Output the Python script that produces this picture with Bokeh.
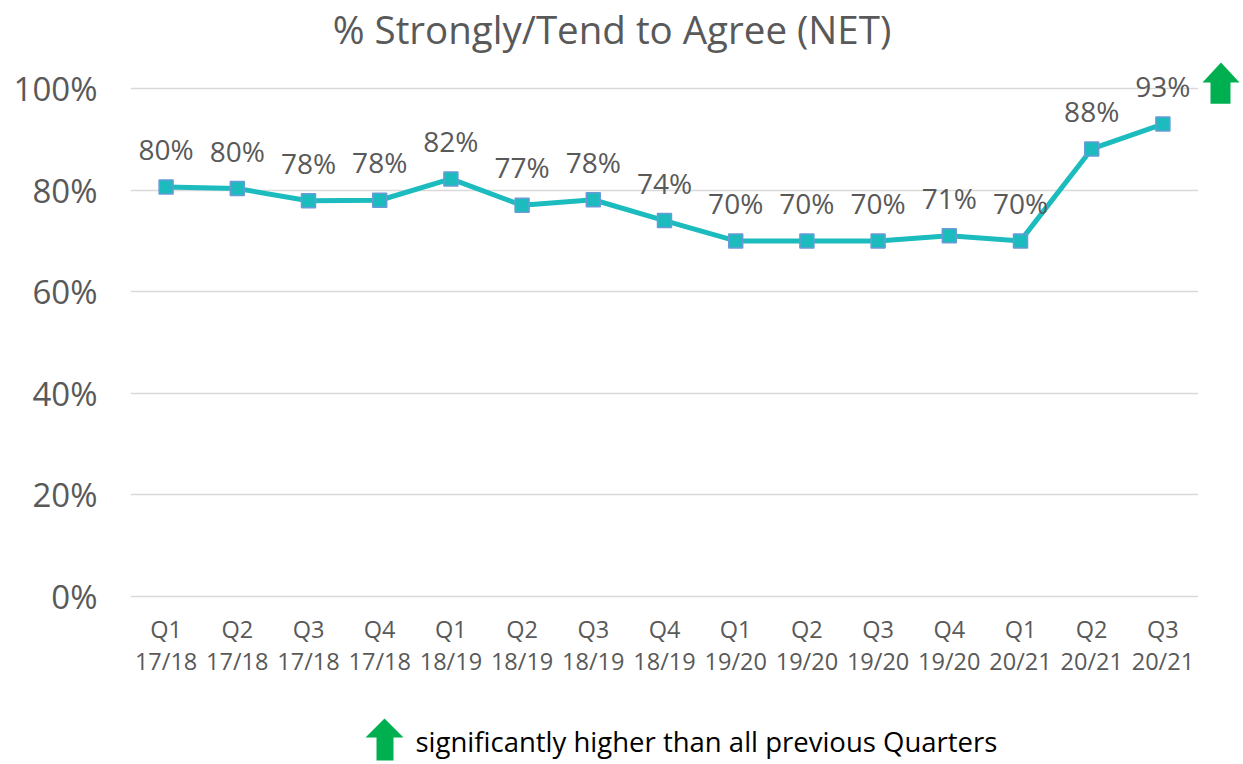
from bokeh.plotting import figure
from bokeh.layouts import row, column
from bokeh.models import ColumnDataSource, FixedTicker, PrintfTickFormatter, Range1d
from bokeh.core.properties import value
from bokeh.embed import file_html
from bokeh.resources import INLINE

quarters = ["Q1", "Q2", "Q3", "Q4", "Q1", "Q2", "Q3", "Q4", "Q1", "Q2", "Q3", "Q4", "Q1", "Q2", "Q3"]
years = ["17/18", "17/18", "17/18", "17/18", "18/19", "18/19", "18/19", "18/19",
         "19/20", "19/20", "19/20", "19/20", "20/21", "20/21", "20/21"]
net_agree = [80.6, 80.3, 77.9, 78.0, 82.2, 77.0, 78.1, 74.0, 70.0, 70.0, 70.0, 71.0, 70.0, 88.1, 93.0]
value_labels = ["80%", "80%", "78%", "78%", "82%", "77%", "78%", "74%", "70%", "70%", "70%", "71%", "70%", "88%", "93%"]
y_ticks = [0, 20, 40, 60, 80, 100]

TITLE = "% Strongly/Tend to Agree (NET)"
NOTE = "significantly higher than all previous Quarters"

factors = [f"{q}\n{y}" for q, y in zip(quarters, years)]
src = ColumnDataSource(dict(x=factors, y=net_agree, lab=value_labels))

FONT = "Open Sans"
GREY = "#595959"
TEAL = "#1CBCBE"
GREEN = "#00B050"


def blank(w, h, x_range, y_range):
    f = figure(width=w, height=h, x_range=x_range, y_range=y_range,
               output_backend="svg", toolbar_location=None,
               x_axis_location=None, y_axis_location=None,
               min_border=0, min_border_left=0, min_border_right=0,
               min_border_top=0, min_border_bottom=0)
    f.outline_line_color = None
    f.grid.visible = False
    return f


# ---------------- title strip ----------------
head = blank(1241, 56, Range1d(0, 1241), Range1d(56, 0))
head.text([611.5], [28], text=[TITLE], text_font=value(FONT), text_font_size="38.5px",
          text_color=GREY, text_align="center", text_baseline="middle")

# ---------------- main chart ----------------
p = figure(x_range=factors, y_range=(-0.6, 106.3), width=1198, height=649,
           output_backend="svg", toolbar_location=None,
           min_border_left=130, min_border_right=0, min_border_bottom=106, min_border_top=0)

p.outline_line_color = None
p.xgrid.visible = False
p.ygrid.ticker = FixedTicker(ticks=y_ticks)
p.ygrid.grid_line_color = "#D9D9D9"
p.ygrid.grid_line_width = 1.5

p.yaxis.ticker = FixedTicker(ticks=y_ticks)
p.yaxis.formatter = PrintfTickFormatter(format="%d%%")
p.yaxis.axis_line_color = None
p.yaxis.major_tick_line_color = None
p.yaxis.minor_tick_line_color = None
p.yaxis.major_label_text_font = FONT
p.yaxis.major_label_text_font_size = "33px"
p.yaxis.major_label_text_color = GREY
p.yaxis.major_label_standoff = 27

p.xaxis.axis_line_color = None
p.xaxis.major_tick_line_color = None
p.xaxis.major_label_text_font = FONT
p.xaxis.major_label_text_font_size = "23.5px"
p.xaxis.major_label_text_color = GREY
p.xaxis.major_label_text_line_height = 1.0
p.xaxis.major_label_standoff = 7

p.line("x", "y", source=src, line_color=TEAL, line_width=5)
p.scatter("x", "y", source=src, marker="square", size=14, fill_color=TEAL,
          line_color="#6A9BD8", line_width=1.5)
p.text("x", "y", text="lab", source=src, text_font=value(FONT), text_font_size="28px",
       text_color=GREY, text_align="center", text_baseline="alphabetic", y_offset=-38)

# ---------------- side strip with significance arrow (shares the y range) ----------------
side = blank(43, 649, Range1d(0, 43), p.y_range)
side.patch([22.5, 41, 32, 32, 12, 12, 4], [105.1, 101.2, 101.2, 97.0, 97.0, 101.2, 101.2],
           fill_color=GREEN, line_color=None)

# ---------------- footnote ----------------
note = blank(1241, 57, Range1d(0, 1241), Range1d(57, 0))
note.patch([384, 403, 393, 393, 376, 376, 365], [13, 32, 32, 55, 55, 32, 32],
           fill_color=GREEN, line_color=None)
note.text([415], [36], text=[NOTE], text_font=value(FONT), text_font_size="27.5px",
          text_color="black", text_baseline="middle", text_align="left")

layout = column(head, row(p, side), note)
open("out.html", "w").write(file_html(layout, INLINE))
